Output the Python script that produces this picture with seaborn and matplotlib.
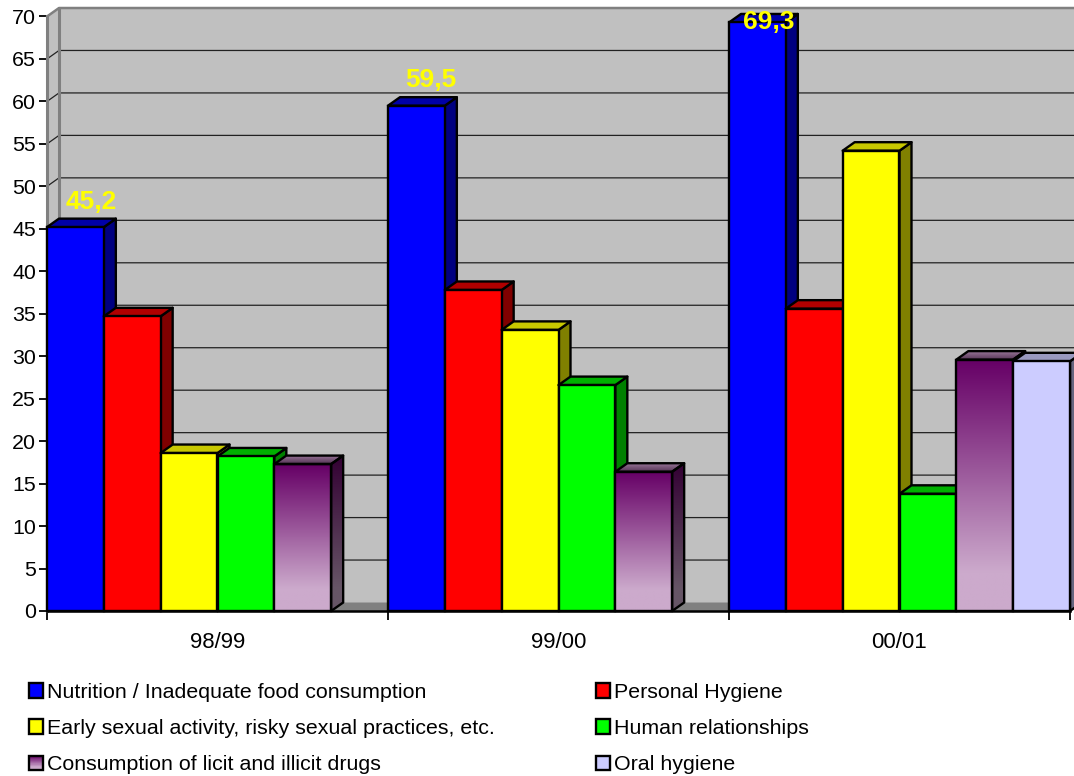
import numpy as np
import pandas as pd
import matplotlib
matplotlib.use("Agg")
import matplotlib.pyplot as plt
import seaborn as sns
from matplotlib.colors import LinearSegmentedColormap
from matplotlib.legend_handler import HandlerBase
from matplotlib.patches import Patch, Polygon, Rectangle

years = ["98/99", "99/00", "00/01"]
nutrition = [45.2, 59.5, 69.3]
hygiene = [34.7, 37.8, 35.6]
sexual = [18.6, 33.1, 54.2]
relationships = [18.2, 26.6, 13.8]
drugs = [17.3, 16.4, 29.6]
oral = [np.nan, np.nan, 29.4]
series_names = [
    "Nutrition / Inadequate food consumption",
    "Personal Hygiene",
    "Early sexual activity, risky sexual practices, etc.",
    "Human relationships",
    "Consumption of licit and illicit drugs",
    "Oral hygiene",
]
series_values = [nutrition, hygiene, sexual, relationships, drugs, oral]
front_colors = ["#0000FF", "#FF0000", "#FFFF00", "#00FF00", "#660066", "#CCCCFF"]
side_colors = ["#000080", "#800000", "#808000", "#008000", "#330033", "#66667F"]
top_colors = ["#0000A8", "#B00000", "#C8C800", "#00B000", "#7A4A7A", "#9999BF"]

W, H = 1074, 776
AX_L, AX_R, AX_B, AX_T = 47, 1070, 611, 16.5
DX = 12 / 341      # 3-D depth, in category units
DY = 1.0           # 3-D depth, in value units
LINE = 1.7
GRID = "#222222"
WALL = "#C0C0C0"
EDGE = "#808080"

sns.set_style("white")
plt.rcParams["font.family"] = ["Liberation Sans", "DejaVu Sans"]
plt.rcParams["text.color"] = "black"
plt.rcParams["xtick.labelcolor"] = "black"
plt.rcParams["ytick.labelcolor"] = "black"
FS = 15.4

fig = plt.figure(figsize=(W / 100, H / 100), dpi=100)
ax = fig.add_axes([AX_L / W, 1 - AX_B / H, (AX_R - AX_L) / W, (AX_B - AX_T) / H])

df = pd.DataFrame(
    [(y, n, v) for n, vals in zip(series_names, series_values) for y, v in zip(years, vals)],
    columns=["year", "issue", "value"],
).dropna()
sns.barplot(
    data=df, x="year", y="value", hue="issue", order=years, hue_order=series_names,
    palette=dict(zip(series_names, front_colors)), width=1, gap=0, saturation=1,
    edgecolor="black", linewidth=LINE, errorbar=None, legend=False, ax=ax,
)

XMIN, XMAX = -0.5, len(years) - 0.5
YMIN, YMAX = 0, 70
ticks_y = np.arange(YMIN, YMAX + 1, 5)

# walls and floor
ax.add_patch(Rectangle((XMIN + DX, DY), XMAX - XMIN, YMAX, fc=WALL, ec="none", zorder=0.5, clip_on=False))
ax.add_patch(Polygon([(XMIN, 0), (XMIN + DX, DY), (XMIN + DX, YMAX + DY), (XMIN, YMAX)],
                     fc=WALL, ec="none", zorder=0.5, clip_on=False))
ax.add_patch(Polygon([(XMIN, 0), (XMIN + DX, DY), (XMAX + DX, DY), (XMAX, 0)],
                     fc=EDGE, ec="none", zorder=0.6, clip_on=False))
for t in ticks_y[1:-1]:
    ax.plot([XMIN, XMIN + DX, XMAX + DX], [t, t + DY, t + DY], color=GRID, lw=0.9,
            zorder=0.7, clip_on=False, solid_joinstyle="miter")
ax.plot([XMIN, XMIN + DX, XMAX + DX], [YMAX, YMAX + DY, YMAX + DY], color=EDGE, lw=1.8,
        zorder=0.8, clip_on=False)
ax.plot([XMIN + DX, XMIN + DX], [DY, YMAX + DY], color=EDGE, lw=2.2, zorder=0.8, clip_on=False)

# gradient for the drugs series
grad = LinearSegmentedColormap.from_list("g", [(0, "#660066"), (0.85, "#CCAACC"), (1, "#CCAACC")])
grad_side = LinearSegmentedColormap.from_list("gs", [(0, "#330033"), (0.85, "#665566"), (1, "#665566")])
grad_top = LinearSegmentedColormap.from_list("gt", [(0, "#997799"), (1, "#553355")])
ramp = np.linspace(0, 1, 128).reshape(-1, 1)

bars = []
for c, container in enumerate(ax.containers):
    for patch in container:
        if np.isfinite(patch.get_height()) and patch.get_height() > 0:
            bars.append((patch.get_x(), c, patch))
bars.sort(key=lambda b: b[0])

for i, (_, c, patch) in enumerate(bars):
    z = 2 + i
    x0, x1, h = patch.get_x(), patch.get_x() + patch.get_width(), patch.get_height()
    side = [(x1, 0), (x1 + DX, DY), (x1 + DX, h + DY), (x1, h)]
    top = [(x0, h), (x0 + DX, h + DY), (x1 + DX, h + DY), (x1, h)]
    is_grad = series_names[c] == "Consumption of licit and illicit drugs"
    side_p = Polygon(side, fc="none" if is_grad else side_colors[c], ec="black", lw=LINE,
                     zorder=z + 0.2, clip_on=False, joinstyle="round")
    top_p = Polygon(top, fc="none" if is_grad else top_colors[c], ec="black", lw=LINE,
                    zorder=z + 0.2, clip_on=False, joinstyle="round")
    ax.add_patch(side_p)
    ax.add_patch(top_p)
    patch.set_zorder(z + 0.3)
    patch.set_clip_on(False)
    if is_grad:
        patch.set_facecolor("none")
        im = ax.imshow(ramp, cmap=grad, extent=(x0, x1, 0, h), origin="upper", aspect="auto",
                       zorder=z + 0.1, interpolation="bilinear")
        im.set_clip_on(False)
        im2 = ax.imshow(ramp, cmap=grad_side, extent=(x1, x1 + DX, 0, h + DY), origin="upper",
                        aspect="auto", zorder=z + 0.1, interpolation="bilinear")
        im2.set_clip_path(Polygon(side, transform=ax.transData))
        im3 = ax.imshow(ramp, cmap=grad_top, extent=(x0, x1 + DX, h, h + DY), origin="upper",
                        aspect="auto", zorder=z + 0.1, interpolation="bilinear")
        im3.set_clip_path(Polygon(top, transform=ax.transData))
    else:
        patch.set_facecolor(front_colors[c])

# data labels on the nutrition series
label_dx = [16 / 341, 14.5 / 341, 11 / 341]
for k, v in enumerate(nutrition):
    xc = k - 0.5 + 0.5 / 6 + label_dx[k]
    ax.text(xc, min(v + 3, 69.4), f"{v:.1f}".replace(".", ","), color="#FFFF00",
            fontsize=19, fontweight="bold", ha="center", va="center", zorder=60, clip_on=False)

ax.set_xlim(XMIN, XMAX)
ax.set_ylim(YMIN, YMAX)
ax.set_xlabel("")
ax.set_ylabel("")
ax.set_yticks(ticks_y)
ax.set_xticks(np.arange(len(years) + 1) - 0.5)
ax.set_xticklabels([])
ax.set_xticks(np.arange(len(years)), labels=years, minor=True)
ax.tick_params(axis="y", which="major", length=6, width=1.3, color="black", pad=2,
               labelsize=FS, left=True)
ax.tick_params(axis="x", which="major", length=6.5, width=1.3, color="black", bottom=True)
ax.tick_params(axis="x", which="minor", length=0, pad=15, labelsize=FS + 0.6)
for s in ["top", "right"]:
    ax.spines[s].set_visible(False)
ax.spines["left"].set_color(EDGE)
ax.spines["left"].set_linewidth(2.2)
ax.spines["left"].set_zorder(1)
ax.spines["bottom"].set_color("black")
ax.spines["bottom"].set_linewidth(1.8)
ax.spines["bottom"].set_zorder(50)


class GradientHandler(HandlerBase):
    def create_artists(self, legend, orig, xd, yd, width, height, fontsize, trans):
        arts = []
        n = 24
        cols = grad(np.linspace(0, 1, n))
        for j in range(n):
            arts.append(Rectangle((-xd, -yd + height * (n - 1 - j) / n), width, height / n + 0.3,
                                  fc=cols[j], ec="none", transform=trans))
        arts.append(Rectangle((-xd, -yd), width, height, fc="none", ec="black", lw=LINE, transform=trans))
        return arts


order = [0, 2, 4, 1, 3, 5]
handles = [Patch(fc=front_colors[i], ec="black", lw=LINE, label=series_names[i]) for i in order]
leg = fig.legend(
    handles=handles, labels=[series_names[i] for i in order], ncol=2, frameon=False,
    loc="upper left", bbox_to_anchor=(29 / W, 1 - 683 / H), borderpad=0, borderaxespad=0,
    fontsize=FS, handlelength=0.65, handleheight=0.65, handletextpad=0.2,
    labelspacing=0.8, columnspacing=4.74,
    handler_map={handles[2]: GradientHandler()},
)

fig.savefig("out.png", dpi=100, facecolor="white")
